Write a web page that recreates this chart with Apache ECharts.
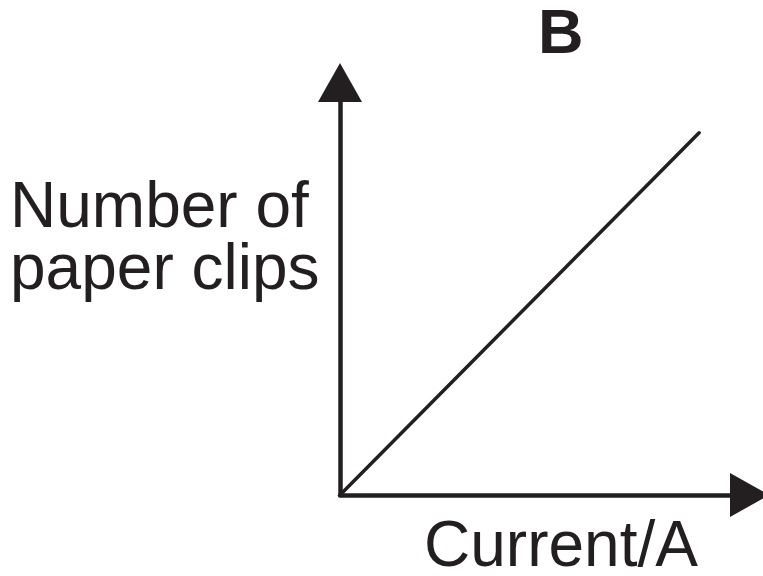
<!DOCTYPE html>
<html>
<head>
<meta charset="utf-8">
<script src="https://cdn.jsdelivr.net/npm/echarts@6/dist/echarts.min.js"></script>
<style>
  html, body { margin: 0; padding: 0; background: #fff; }
  #chart { width: 763px; height: 576px; }
</style>
</head>
<body>
<div id="chart"></div>
<script>
// data (arbitrary units, straight line through origin)
const currentValues = [0, 8.77]
const clipValues = [0, 8.78]

const panelTitle = 'B'
const yLabel = 'Number of\npaper clips'
const xLabel = 'Current/A'

const ink = '#231f20'
const font = "'Liberation Sans', Arial, Helvetica, sans-serif"

const chart = echarts.init(document.getElementById('chart'))

const points = currentValues.map((x, i) => [x, clipValues[i]])

const axisCommon = {
  type: 'value',
  min: 0,
  max: 10,
  axisLine: {
    show: true,
    onZero: false,
    symbol: ['none', 'triangle'],
    symbolSize: [44, 39],
    lineStyle: { color: ink, width: 4.5 }
  },
  axisTick: { show: false },
  axisLabel: { show: false },
  splitLine: { show: false }
}

const option = {
  animation: false,
  backgroundColor: '#fff',
  title: [
    {
      text: panelTitle,
      left: 538,
      top: 4,
      padding: 0,
      textStyle: { fontFamily: font, fontSize: 63, fontWeight: 'bold', color: ink, lineHeight: 63 }
    },
    {
      text: yLabel,
      left: 10,
      top: 178,
      padding: 0,
      textStyle: { fontFamily: font, fontSize: 64, fontWeight: 'normal', color: ink, lineHeight: 62 }
    },
    {
      text: xLabel,
      left: 424,
      top: 516,
      padding: 0,
      textStyle: { fontFamily: font, fontSize: 64, fontWeight: 'normal', color: ink, lineHeight: 64 }
    }
  ],
  grid: {
    left: 340,
    right: 13.5,
    top: 82.5,
    bottom: 81,
    containLabel: false
  },
  xAxis: axisCommon,
  yAxis: axisCommon,
  series: [
    {
      type: 'line',
      data: points,
      showSymbol: false,
      lineStyle: { color: ink, width: 3.5, cap: 'round' }
    }
  ]
}

chart.setOption(option)
</script>
</body>
</html>
